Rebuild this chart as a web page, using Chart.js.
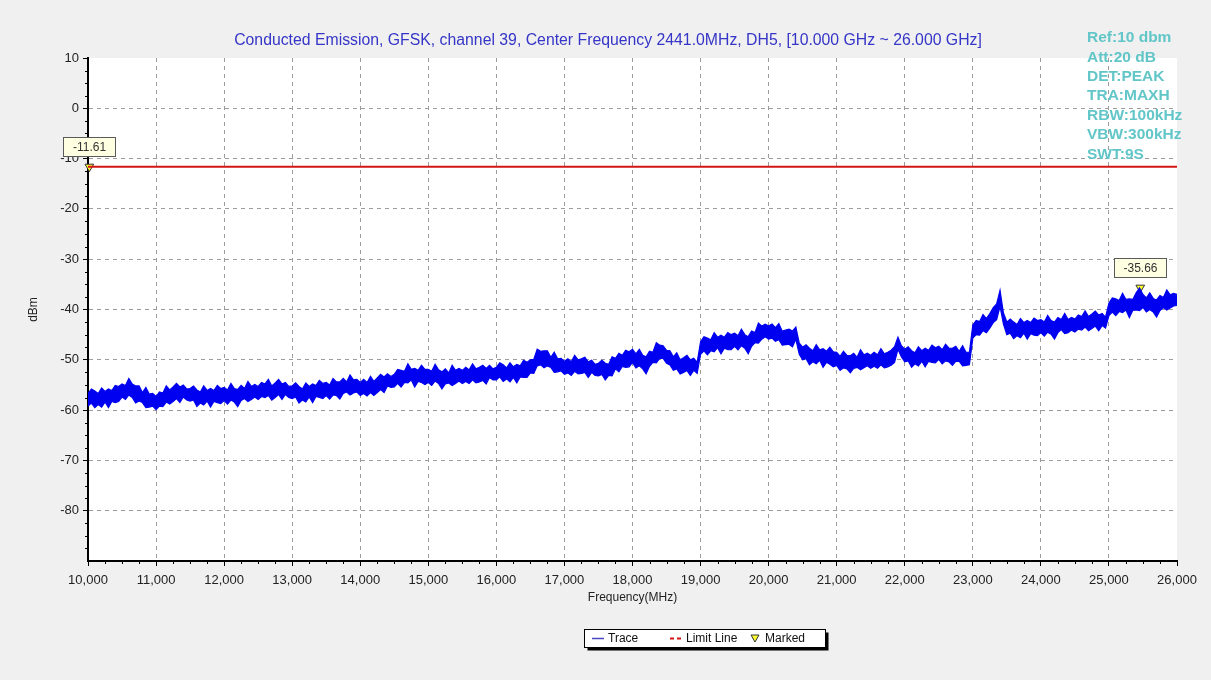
<!DOCTYPE html>
<html>
<head>
<meta charset="utf-8">
<title>Conducted Emission 10-26 GHz</title>
<script src="https://cdn.jsdelivr.net/npm/chart.js@4.4.1/dist/chart.umd.min.js"></script>
<style>
  html, body { margin: 0; padding: 0; background: #f0f0f0; }
  #wrap { width: 1211px; height: 680px; }
</style>
</head>
<body>
<div id="wrap"><canvas id="emission-chart" width="1211" height="680"></canvas></div>
<script>
/* Conducted emission sweep, 10 - 26 GHz, max-hold trace with limit line */

(function () {
  // Sweep bins: one every 50 MHz starting at 10 GHz.
  // The max-hold trace is noisy, so each bin keeps its high and low reading.
  const startFreq = 10000;
  const stepFreq  = 50;

  const traceHigh = [
    -56.7, -55.8, -56.2, -56.7, -55.6, -56.3, -55.8, -56.1, -55.1, -55.3,
    -54.8, -55.1, -53.7, -54.8, -55.2, -55.2, -56.5, -55.5, -56.8, -56.7,
    -57.3, -56.4, -56.6, -55.2, -56.0, -55.4, -54.7, -55.4, -55.0, -55.8,
    -55.7, -55.2, -56.0, -56.4, -55.2, -56.1, -55.7, -56.1, -55.1, -55.7,
    -55.5, -56.0, -54.7, -55.7, -55.9, -55.1, -55.7, -54.3, -55.3, -54.9,
    -55.3, -54.5, -54.8, -53.9, -55.2, -54.6, -53.9, -54.8, -54.5, -55.3,
    -55.2, -54.6, -55.3, -55.8, -54.6, -55.3, -54.8, -55.1, -54.1, -54.7,
    -54.5, -55.0, -53.7, -54.4, -54.4, -53.7, -54.4, -53.0, -54.0, -53.9,
    -54.5, -53.9, -54.5, -53.3, -54.3, -53.6, -52.9, -53.4, -52.8, -53.3,
    -52.9, -51.9, -52.1, -52.3, -50.8, -51.9, -51.7, -52.1, -51.1, -51.9,
    -51.9, -52.3, -50.9, -52.0, -52.4, -51.8, -52.6, -51.1, -52.1, -51.7,
    -52.1, -51.5, -52.0, -50.8, -51.8, -51.5, -51.1, -51.7, -51.1, -51.8,
    -51.5, -50.6, -51.0, -51.6, -50.6, -51.4, -50.9, -51.2, -50.1, -50.5,
    -50.0, -49.9, -47.9, -48.3, -48.2, -48.2, -49.5, -48.5, -49.8, -49.7,
    -50.3, -49.8, -50.4, -49.1, -50.0, -49.8, -49.5, -50.4, -50.1, -50.9,
    -50.7, -50.1, -50.7, -50.9, -49.4, -49.7, -48.7, -49.1, -48.1, -48.4,
    -47.9, -48.8, -47.9, -49.1, -49.4, -48.3, -48.5, -46.6, -47.1, -47.2,
    -48.1, -48.2, -49.4, -48.6, -50.0, -49.6, -49.1, -50.0, -49.7, -50.5,
    -46.4, -45.4, -45.7, -46.0, -44.6, -45.5, -45.1, -45.5, -44.6, -45.0,
    -44.7, -45.2, -43.9, -45.0, -45.4, -44.3, -44.6, -42.7, -43.3, -42.9,
    -43.3, -42.9, -43.6, -42.8, -44.3, -44.1, -43.9, -44.3, -43.5, -46.7,
    -47.5, -47.0, -47.7, -48.2, -47.0, -48.0, -47.8, -48.3, -47.5, -48.4,
    -48.5, -49.3, -48.3, -49.1, -49.2, -48.7, -49.5, -48.0, -49.0, -48.7,
    -49.1, -48.5, -49.0, -47.8, -48.8, -48.5, -48.1, -47.4, -45.5, -47.2,
    -47.9, -47.4, -48.2, -48.6, -47.4, -48.2, -47.7, -48.1, -47.1, -47.6,
    -47.3, -48.0, -46.9, -47.7, -47.7, -47.3, -48.3, -47.2, -48.5, -48.5,
    -43.1, -42.2, -42.4, -41.0, -41.8, -40.8, -39.6, -38.9, -36.2, -40.7,
    -42.5, -41.9, -42.5, -43.0, -41.8, -42.6, -42.2, -42.6, -41.7, -42.2,
    -42.0, -42.5, -41.2, -42.2, -42.5, -41.6, -42.0, -40.8, -42.0, -41.6,
    -41.9, -41.1, -41.4, -40.3, -41.4, -40.9, -40.3, -41.1, -40.8, -41.5,
    -38.7, -37.7, -37.9, -38.2, -36.8, -38.0, -37.9, -38.0, -36.7, -35.7,
    -37.0, -37.7, -36.7, -37.8, -38.1, -37.2, -37.6, -36.1, -37.1, -36.8,
    -37.0,
  ];

  const traceLow = [
    -59.2, -58.6, -59.5, -58.9, -59.4, -58.4, -59.5, -58.3, -58.5, -58.3,
    -57.4, -57.9, -57.0, -57.5, -58.6, -58.2, -58.5, -59.5, -59.4, -59.2,
    -59.9, -59.2, -59.3, -58.4, -58.8, -58.3, -57.7, -58.5, -57.4, -58.0,
    -58.2, -58.0, -59.3, -58.6, -59.0, -58.2, -59.4, -58.3, -58.5, -58.7,
    -58.1, -58.8, -58.0, -58.4, -59.3, -58.1, -57.7, -58.3, -57.9, -57.4,
    -57.9, -57.3, -57.5, -57.1, -58.0, -57.5, -56.9, -57.9, -56.9, -57.5,
    -57.7, -57.4, -58.6, -58.0, -58.4, -57.4, -58.5, -57.3, -57.5, -57.7,
    -57.1, -57.8, -57.0, -57.1, -57.8, -56.7, -56.4, -57.0, -56.6, -56.4,
    -57.1, -56.7, -57.2, -56.5, -57.1, -56.5, -55.9, -56.5, -55.2, -55.5,
    -55.4, -54.7, -55.4, -54.5, -54.6, -54.0, -55.4, -54.3, -54.5, -54.9,
    -54.5, -55.1, -54.2, -54.7, -55.8, -54.8, -54.6, -55.1, -54.7, -54.2,
    -54.7, -54.3, -54.7, -54.0, -54.6, -54.4, -54.1, -54.8, -53.5, -54.0,
    -54.0, -53.4, -54.3, -53.8, -54.4, -53.5, -54.6, -53.4, -53.5, -53.5,
    -52.6, -52.7, -51.2, -51.0, -51.6, -51.2, -51.5, -52.5, -52.4, -52.2,
    -52.9, -52.6, -53.1, -52.3, -52.8, -52.7, -52.5, -53.5, -52.5, -53.1,
    -53.2, -52.9, -54.0, -53.1, -53.2, -51.8, -52.4, -51.3, -51.5, -51.4,
    -50.5, -51.6, -51.2, -51.8, -52.8, -51.3, -50.5, -50.6, -49.7, -49.7,
    -50.7, -51.0, -52.1, -51.8, -52.8, -52.5, -52.1, -53.1, -52.1, -52.7,
    -48.9, -48.2, -49.0, -48.2, -48.4, -47.6, -48.8, -47.7, -48.0, -48.0,
    -47.3, -48.0, -47.2, -47.7, -48.8, -47.3, -46.6, -46.7, -45.9, -45.4,
    -45.9, -45.7, -46.3, -46.0, -47.1, -47.0, -46.9, -47.4, -45.9, -48.9,
    -50.0, -49.8, -51.0, -50.4, -50.8, -50.1, -51.5, -50.5, -50.9, -51.4,
    -51.1, -52.1, -51.6, -51.8, -52.6, -51.7, -51.5, -52.0, -51.6, -51.2,
    -51.7, -51.3, -51.7, -51.0, -51.6, -51.4, -51.1, -50.5, -47.9, -49.4,
    -50.4, -50.2, -51.5, -50.8, -51.2, -50.3, -51.4, -50.3, -50.5, -50.6,
    -49.9, -50.8, -50.2, -50.4, -51.1, -50.3, -50.3, -51.2, -51.1, -51.0,
    -45.7, -45.0, -45.1, -44.2, -44.6, -43.7, -42.6, -42.0, -39.4, -42.9,
    -45.0, -44.7, -45.8, -45.2, -45.6, -44.7, -45.9, -44.8, -45.1, -45.2,
    -44.6, -45.3, -44.5, -44.9, -45.9, -44.6, -44.0, -44.8, -44.6, -44.1,
    -44.5, -43.9, -44.1, -43.5, -44.2, -43.8, -43.3, -44.2, -43.2, -43.7,
    -41.2, -40.5, -41.2, -40.4, -40.6, -40.1, -41.6, -40.2, -40.1, -40.2,
    -39.6, -40.5, -40.0, -40.5, -41.5, -40.2, -39.6, -40.1, -39.7, -39.3,
    -39.2,
  ];

  const limitFreqs  = [10000, 26000];
  const limitLevels = [-11.61, -11.61];

  const markerFreqs  = [10020, 25460];
  const markerLevels = [-11.61, -35.66];

  const xTicks = [10000, 11000, 12000, 13000, 14000, 15000, 16000, 17000,
                  18000, 19000, 20000, 21000, 22000, 23000, 24000, 25000, 26000];
  const yTicks = [10, 0, -10, -20, -30, -40, -50, -60, -70, -80];

  const titleText = 'Conducted Emission, GFSK, channel 39, Center Frequency 2441.0MHz, DH5, [10.000 GHz ~ 26.000 GHz]';
  const infoLines = ['Ref:10 dbm', 'Att:20 dB', 'DET:PEAK', 'TRA:MAXH',
                     'RBW:100kHz', 'VBW:300kHz', 'SWT:9S'];

  const FONT       = "'Liberation Sans', Arial, sans-serif";
  const TRACE_BLUE = '#0000f0';
  const LIMIT_RED  = '#d41515';
  const GRID_GRAY  = '#9c9c9c';

  const binFreq      = i => startFreq + i * stepFreq;
  const highPoints   = traceHigh.map((v, i) => ({ x: binFreq(i), y: v }));
  const lowPoints    = traceLow.map((v, i) => ({ x: binFreq(i), y: v }));
  const limitPoints  = limitFreqs.map((f, i) => ({ x: f, y: limitLevels[i] }));
  const markerPoints = markerFreqs.map((f, i) => ({ x: f, y: markerLevels[i] }));

  // White plot area on the grey page
  const plotBackground = {
    id: 'plotBackground',
    beforeDraw(chart) {
      const { ctx, chartArea: a } = chart;
      ctx.save();
      ctx.fillStyle = '#ffffff';
      ctx.fillRect(a.left, a.top, a.right - a.left, a.bottom - a.top);
      ctx.restore();
    },
  };

  // Short minor ticks between the labelled ones
  const minorTicks = {
    id: 'minorTicks',
    afterDraw(chart) {
      const { ctx, chartArea: a, scales: { x, y } } = chart;
      ctx.save();
      ctx.strokeStyle = '#000';
      ctx.lineWidth   = 1;
      ctx.beginPath();
      for (let f = x.min + 250; f < x.max; f += 250) {
        if (f % 1000 === 0) continue;
        const px = Math.round(x.getPixelForValue(f)) + 0.5;
        ctx.moveTo(px, a.bottom);
        ctx.lineTo(px, a.bottom + 3);
      }
      for (let v = y.min + 2.5; v < y.max; v += 2.5) {
        if (v % 10 === 0) continue;
        const py = Math.round(y.getPixelForValue(v)) + 0.5;
        ctx.moveTo(a.left, py);
        ctx.lineTo(a.left - 3, py);
      }
      ctx.stroke();
      ctx.restore();
    },
  };

  // Title, marker read-outs, instrument settings and the boxed legend
  const annotations = {
    id: 'annotations',
    afterDraw(chart) {
      const { ctx, scales: { x, y } } = chart;
      ctx.save();

      ctx.fillStyle    = '#3535c8';
      ctx.font         = '15.8px ' + FONT;
      ctx.textAlign    = 'center';
      ctx.textBaseline = 'middle';
      ctx.fillText(titleText, 608, 41);

      // marker value boxes
      ctx.font = '12px ' + FONT;
      markerPoints.forEach(p => {
        const cx = x.getPixelForValue(p.x);
        const cy = y.getPixelForValue(p.y);
        const w = 52, h = 19;
        const bx = Math.round(cx - w / 2) + 0.5;
        const by = Math.round(cy - 11 - h) + 0.5;
        ctx.fillStyle = '#ffffe1';
        ctx.fillRect(bx, by, w, h);
        ctx.strokeStyle = '#5a5a5a';
        ctx.lineWidth   = 1;
        ctx.strokeRect(bx, by, w, h);
        ctx.fillStyle = '#333';
        ctx.fillText(p.y.toFixed(2), bx + w / 2, by + h / 2 + 1);
      });

      ctx.fillStyle    = '#62c6c8';
      ctx.font         = 'bold 15.5px ' + FONT;
      ctx.textAlign    = 'left';
      infoLines.forEach((t, i) => ctx.fillText(t, 1087, 38 + i * 19.4));

      // legend
      const lx = 584.5, ly = 629.5, lw = 241, lh = 18;
      ctx.fillStyle = '#000';
      ctx.fillRect(lx + 3, ly + 3, lw, lh);
      ctx.fillStyle = '#fff';
      ctx.fillRect(lx, ly, lw, lh);
      ctx.strokeStyle = '#000';
      ctx.strokeRect(lx, ly, lw, lh);

      ctx.lineWidth   = 1.5;
      ctx.strokeStyle = '#4a4ac0';
      ctx.beginPath();
      ctx.moveTo(592, 638.5);
      ctx.lineTo(604, 638.5);
      ctx.stroke();

      ctx.strokeStyle = LIMIT_RED;
      ctx.lineWidth   = 2;
      ctx.setLineDash([4, 3]);
      ctx.beginPath();
      ctx.moveTo(670, 638.5);
      ctx.lineTo(684, 638.5);
      ctx.stroke();
      ctx.setLineDash([]);

      ctx.fillStyle   = '#ffff30';
      ctx.strokeStyle = '#333';
      ctx.lineWidth   = 1;
      ctx.beginPath();
      ctx.moveTo(751, 635);
      ctx.lineTo(759, 635);
      ctx.lineTo(755, 642);
      ctx.closePath();
      ctx.fill();
      ctx.stroke();

      ctx.fillStyle = '#111';
      ctx.font      = '12px ' + FONT;
      ctx.fillText('Trace', 608, 639);
      ctx.fillText('Limit Line', 686, 639);
      ctx.fillText('Marked', 765, 639);

      ctx.restore();
    },
  };

  const tickFont = { family: FONT, size: 13 };

  new Chart(document.getElementById('emission-chart'), {
    type: 'line',
    data: {
      datasets: [
        {
          label:           'Trace',
          data:            highPoints,
          borderColor:     TRACE_BLUE,
          backgroundColor: TRACE_BLUE,
          borderWidth:     1.2,
          pointRadius:     0,
          tension:         0,
          fill:            '+1',
        },
        {
          label:       'Trace low',
          data:        lowPoints,
          borderColor: TRACE_BLUE,
          borderWidth: 1.2,
          pointRadius: 0,
          tension:     0,
        },
        {
          label:       'Limit Line',
          data:        limitPoints,
          borderColor: LIMIT_RED,
          borderWidth: 2,
          pointRadius: 0,
        },
        {
          label:            'Marked',
          data:             markerPoints,
          showLine:         false,
          pointStyle:       'triangle',
          rotation:         180,
          pointRadius:      5,
          backgroundColor:  '#ffff30',
          borderColor:      '#333',
          pointBorderWidth: 1,
          clip:             false,
        },
      ],
    },
    options: {
      responsive: false,
      animation:  false,
      events:     [],
      layout: { padding: { top: 58, right: 34, bottom: 72, left: 0 } },
      plugins: {
        legend:  { display: false },
        tooltip: { enabled: false },
        filler:  { propagate: false },
      },
      scales: {
        x: {
          type: 'linear',
          min:  10000,
          max:  26000,
          afterBuildTicks: s => { s.ticks = xTicks.map(v => ({ value: v })); },
          afterFit:        s => { s.height = 47; },
          ticks: {
            color:       '#222',
            font:        tickFont,
            padding:     7,
            maxRotation: 0,
            autoSkip:    false,
            callback:    v => v.toLocaleString('en-US'),
          },
          grid: {
            color:      c => (c.tick && (c.tick.value === 10000 || c.tick.value === 26000)) ? 'rgba(0,0,0,0)' : GRID_GRAY,
            tickColor:  '#000',
            tickLength: 5,
            tickBorderDash: [],
          },
          border: { color: '#000', width: 2, dash: [4, 4] },
          title: {
            display: true,
            text:    'Frequency(MHz)',
            color:   '#222',
            font:    { family: FONT, size: 12 },
            padding: { top: 0, bottom: 3 },
          },
        },
        y: {
          min: -90,
          max: 10,
          afterBuildTicks: s => { s.ticks = yTicks.map(v => ({ value: v })); },
          afterFit:        s => { s.width = 88; },
          ticks: {
            color:    '#222',
            font:     tickFont,
            padding:  4,
            autoSkip: false,
          },
          grid: {
            color:      c => (c.tick && c.tick.value === 10) ? 'rgba(0,0,0,0)' : GRID_GRAY,
            tickColor:  '#000',
            tickLength: 5,
            tickBorderDash: [],
          },
          border: { color: '#000', width: 2, dash: [4, 4] },
          title: {
            display: true,
            text:    'dBm',
            color:   '#222',
            font:    { family: FONT, size: 12 },
            padding: { top: 26, bottom: 0 },
          },
        },
      },
    },
    plugins: [plotBackground, minorTicks, annotations],
  });
})();
</script>
</body>
</html>
